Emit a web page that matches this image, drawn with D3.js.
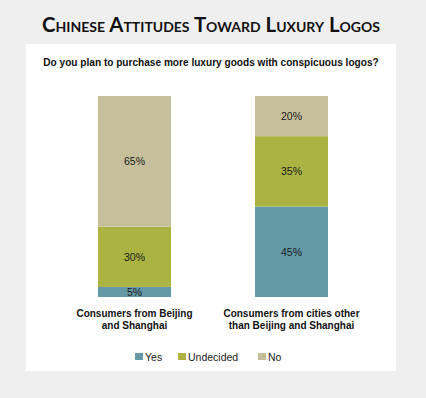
<!DOCTYPE html>
<html>
<head>
<meta charset="utf-8">
<script src="https://d3js.org/d3.v7.min.js"></script>
<style>
  body { margin: 0; background: #efefef; }
  svg { display: block; }
</style>
</head>
<body>
<svg id="chart" width="426" height="398"></svg>
<script>
// data
var groups = ["Consumers from Beijing and Shanghai", "Consumers from cities other than Beijing and Shanghai"];
var groupLines = [["Consumers from Beijing", "and Shanghai"], ["Consumers from cities other", "than Beijing and Shanghai"]];
var answers = ["Yes", "Undecided", "No"];
var yes = [5, 45];
var undecided = [30, 35];
var no = [65, 20];
var colors = ["#6499a6", "#abb343", "#c5bf9b"];

var rows = groups.map(function(g, i) {
  return { group: g, Yes: yes[i], Undecided: undecided[i], No: no[i] };
});

var svg = d3.select("#chart");
var W = 426, H = 398;

svg.append("rect").attr("width", W).attr("height", H).attr("fill", "#efefef");
// white panel
svg.append("rect").attr("x", 26).attr("y", 44).attr("width", 370).attr("height", 327).attr("fill", "#fff");

svg.append("text")
  .attr("x", 211).attr("y", 32)
  .attr("text-anchor", "middle")
  .style("font-family", "Lato, 'Open Sans', sans-serif")
  .style("font-variant", "small-caps")
  .style("font-weight", "bold")
  .style("font-size", "20.4px")
  .attr("fill", "#111")
  .text("Chinese Attitudes Toward Luxury Logos");

svg.append("text")
  .attr("x", 211).attr("y", 66)
  .attr("text-anchor", "middle")
  .style("font-family", "'Liberation Sans', Arial, sans-serif")
  .style("font-weight", "bold")
  .style("font-size", "10.1px")
  .attr("fill", "#111")
  .text("Do you plan to purchase more luxury goods with conspicuous logos?");

var x = d3.scaleBand().domain(groups).range([56, 370]).paddingInner(0.535).paddingOuter(0.2675);
var y = d3.scaleLinear().domain([0, 100]).range([297, 96]);
var color = d3.scaleOrdinal().domain(answers).range(colors);

var stacked = d3.stack().keys(answers)(rows);

var layer = svg.selectAll(".layer").data(stacked).enter().append("g")
  .attr("class", "layer")
  .attr("fill", function(d) { return color(d.key); });

layer.selectAll("rect").data(function(d) { return d; }).enter().append("rect")
  .attr("x", function(d) { return x(d.data.group); })
  .attr("width", x.bandwidth())
  .attr("y", function(d) { return y(d[1]); })
  .attr("height", function(d) { return y(d[0]) - y(d[1]); });

layer.selectAll("text").data(function(d) { return d; }).enter().append("text")
  .attr("x", function(d) { return x(d.data.group) + x.bandwidth() / 2; })
  .attr("y", function(d) { return (y(d[0]) + y(d[1])) / 2; })
  .attr("dy", "0.36em")
  .attr("text-anchor", "middle")
  .style("font-family", "'Liberation Sans', Arial, sans-serif")
  .style("font-size", "10.5px")
  .attr("fill", "#1a1a1a")
  .text(function(d) { return (d[1] - d[0]) + "%"; });

// category labels
var lab = svg.selectAll(".cat").data(groups).enter().append("text")
  .attr("class", "cat")
  .attr("text-anchor", "middle")
  .style("font-family", "'Liberation Sans', Arial, sans-serif")
  .style("font-weight", "bold")
  .style("font-size", "10px")
  .attr("fill", "#111");
lab.selectAll("tspan").data(function(d, i) { return groupLines[i]; }).enter().append("tspan")
  .attr("x", function() { var g = d3.select(this.parentNode).datum(); return x(g) + x.bandwidth() / 2; })
  .attr("y", function(d, j) { return 317 + j * 11.5; })
  .text(function(d) { return d; });

// legend
var legendX = [135, 178, 258];
var leg = svg.selectAll(".leg").data(answers).enter().append("g")
  .attr("class", "leg")
  .attr("transform", function(d, i) { return "translate(" + legendX[i] + ",353)"; });
leg.append("rect").attr("width", 8).attr("height", 7).attr("fill", function(d) { return color(d); });
leg.append("text").attr("x", 10).attr("y", 7.5)
  .style("font-family", "'Liberation Sans', Arial, sans-serif")
  .style("font-size", "10.5px")
  .attr("fill", "#222")
  .text(function(d) { return d; });
</script>
</body>
</html>
